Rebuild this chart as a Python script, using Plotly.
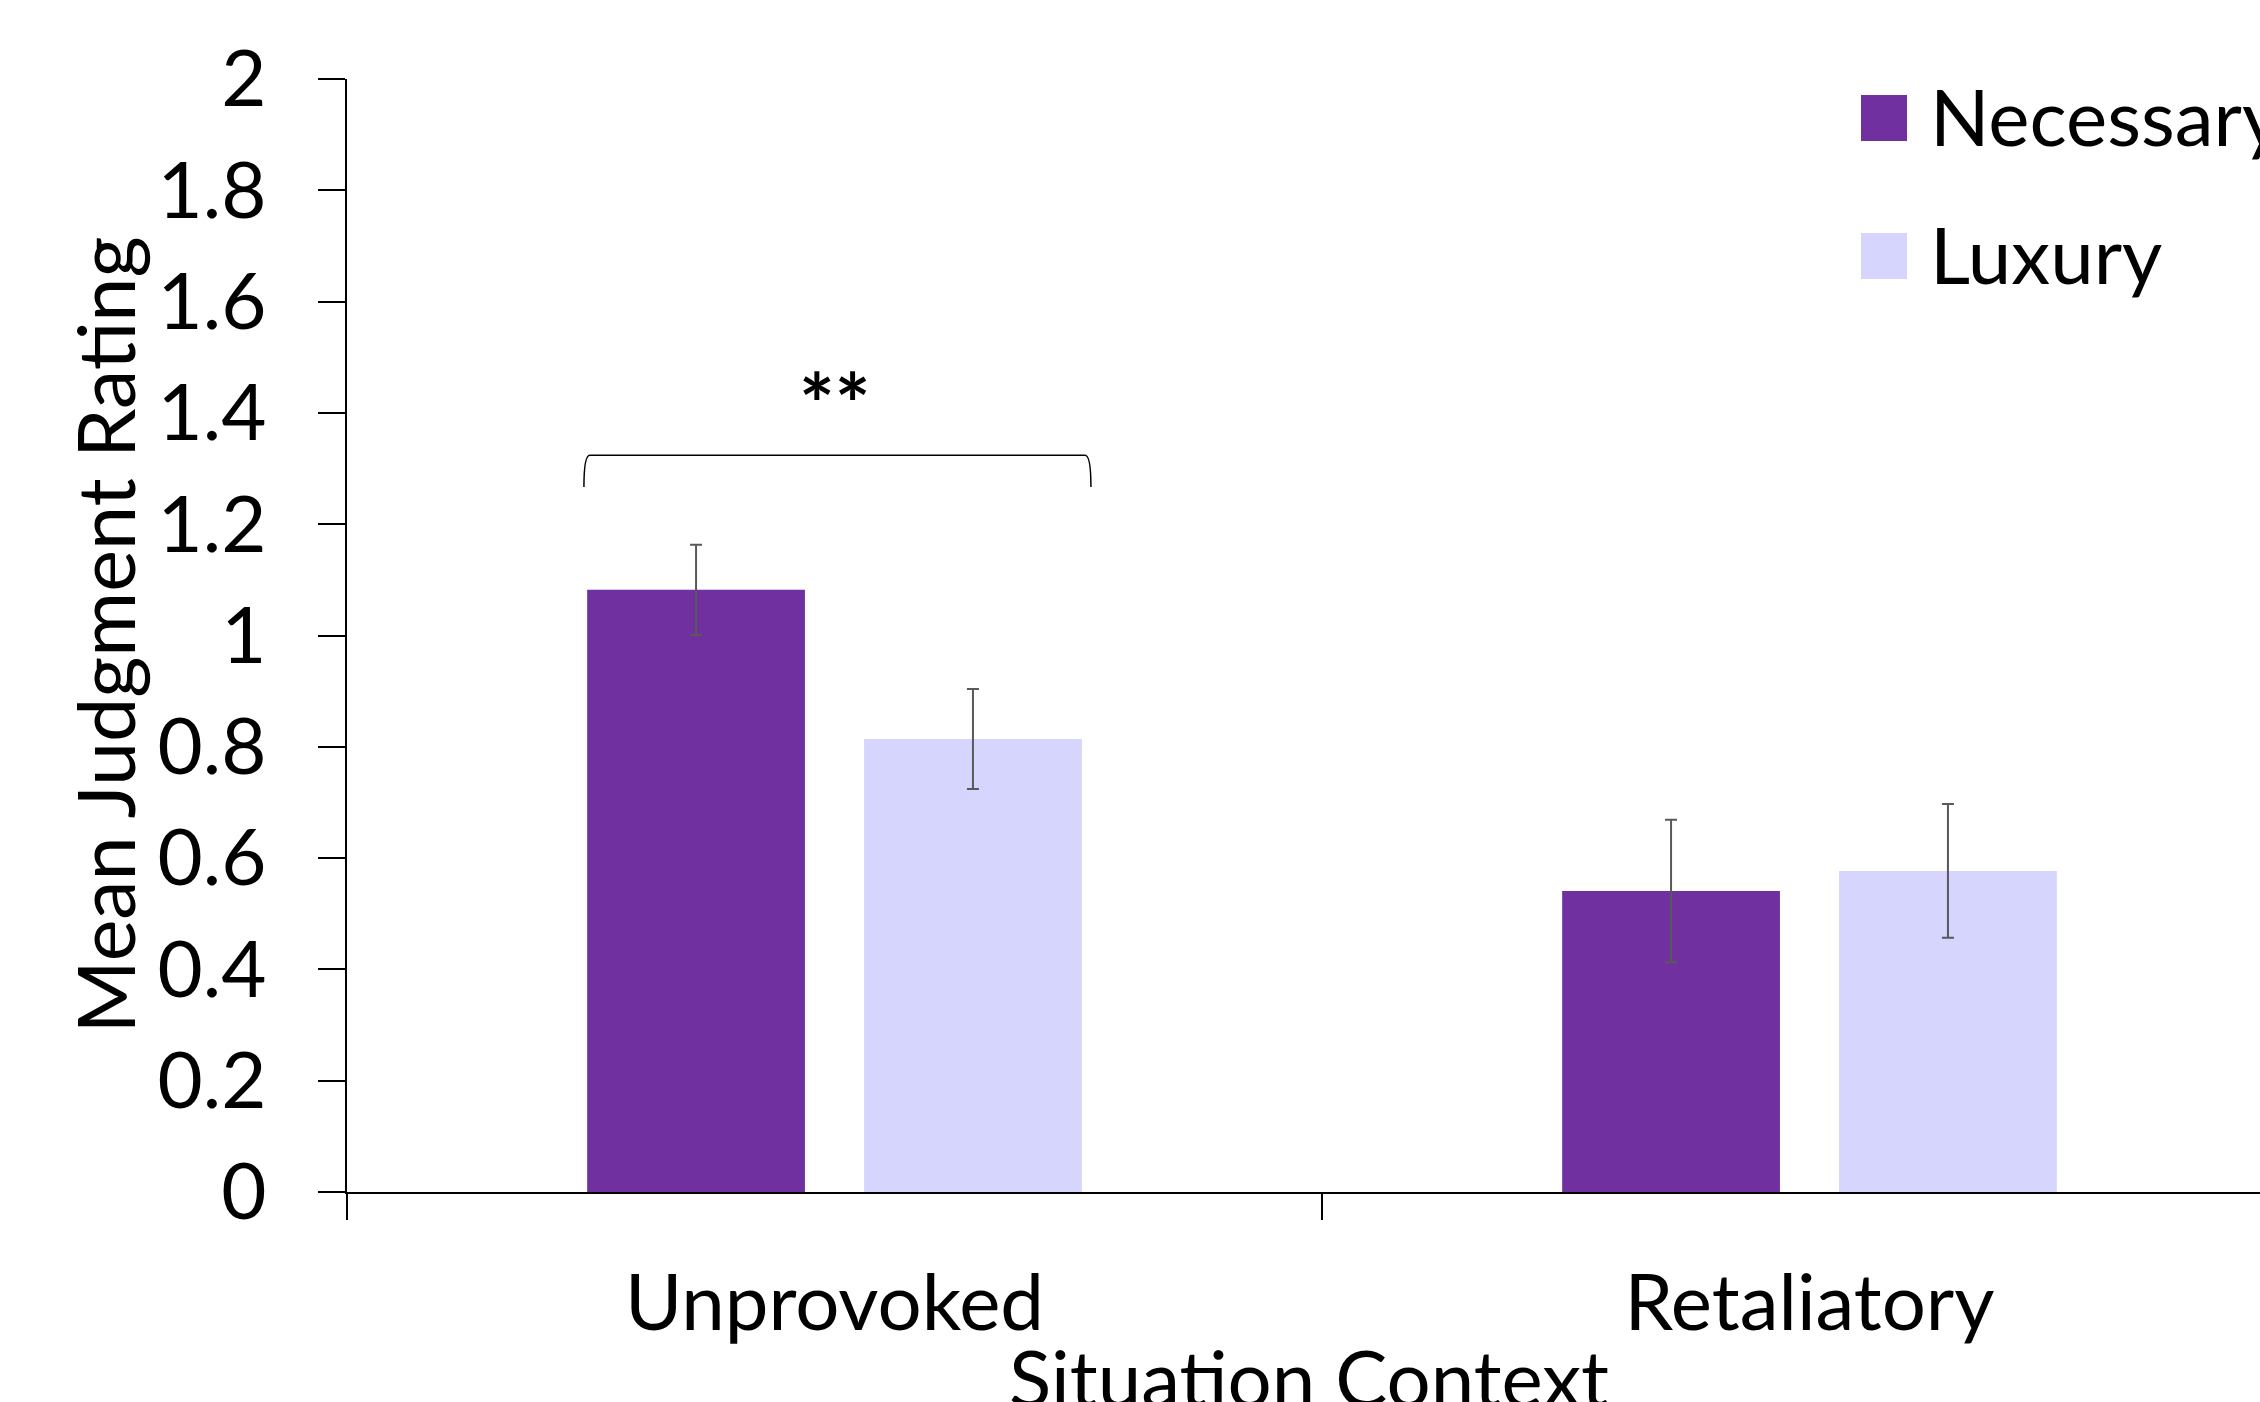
import plotly.graph_objects as go

# ---- data -------------------------------------------------------------
categories = ["Unprovoked", "Retaliatory"]
series_names = ["Necessary", "Luxury"]
necessary_means = [1.082, 0.541]
necessary_err = [0.081, 0.128]
luxury_means = [0.814, 0.577]
luxury_err = [0.090, 0.120]
y_tick_values = [0, 0.2, 0.4, 0.6, 0.8, 1.0, 1.2, 1.4, 1.6, 1.8, 2.0]
y_tick_labels = ["0", "0.2", "0.4", "0.6", "0.8", "1", "1.2", "1.4", "1.6", "1.8", "2"]
significance_label = "**"

# ---- style ------------------------------------------------------------
W, H = 2260, 1402
M_L, M_R, M_T, M_B = 347, 0, 79, 210
PLOT_W = W - M_L - M_R
PLOT_H = H - M_T - M_B
FONT = "Lato"
TICK_SIZE = 78
COLOR_NEC = "#7030A0"
COLOR_LUX = "#D6D5FD"
ERR_COLOR = "#595959"
series_colors = [COLOR_NEC, COLOR_LUX]


def px_x(px):
    """pixel column -> paper x"""
    return (px - M_L) / PLOT_W


def px_y(py):
    """pixel row -> paper y"""
    return (H - M_B - py) / PLOT_H


fig = go.Figure()
for name, means, errs, color in zip(series_names,
                                    [necessary_means, luxury_means],
                                    [necessary_err, luxury_err],
                                    series_colors):
    fig.add_trace(go.Bar(
        x=categories, y=means, name=name,
        marker=dict(color=color, line=dict(width=0)),
        error_y=dict(type="data", array=errs, visible=True,
                     color=ERR_COLOR, thickness=2, width=6),
        showlegend=False,
    ))

# significance bracket over the first group
bx0, bx1, by_top, by_end, r = -0.257, 0.263, 1.324, 1.267, 0.006
fig.add_shape(
    type="path", xref="x", yref="y",
    path=(f"M {bx0},{by_end} Q {bx0},{by_top} {bx0 + r},{by_top} "
          f"L {bx1 - r},{by_top} Q {bx1},{by_top} {bx1},{by_end}"),
    line=dict(color="black", width=1.5),
)
fig.add_annotation(x=0, y=1.418, xref="x", yref="y",
                   text=f"<b>{significance_label}</b>",
                   showarrow=False, font=dict(family=FONT, size=84, color="black"),
                   yanchor="middle")

# legend drawn as squares + labels
sq = 46
legend_rows = [118, 256]
for name, color, cy in zip(series_names, series_colors, legend_rows):
    fig.add_shape(type="rect", xref="paper", yref="paper",
                  x0=px_x(1861), x1=px_x(1861 + sq),
                  y0=px_y(cy + sq / 2), y1=px_y(cy - sq / 2),
                  fillcolor=color, line=dict(width=0))
    fig.add_annotation(x=px_x(1928), y=px_y(cy - 2), xref="paper", yref="paper",
                       text=name, showarrow=False, xanchor="left", yanchor="middle",
                       font=dict(family=FONT, size=TICK_SIZE, color="black"))

# axis titles
fig.add_annotation(x=px_x(104), y=0.5, xref="paper", yref="paper",
                   text="Mean Judgment Rating", textangle=-90, showarrow=False,
                   xanchor="center", yanchor="middle",
                   font=dict(family=FONT, size=79, color="black"))
fig.add_annotation(x=px_x(1309), y=px_y(1328), xref="paper", yref="paper",
                   text="Situation Context", showarrow=False,
                   xanchor="center", yanchor="top",
                   font=dict(family=FONT, size=TICK_SIZE, color="black"))

fig.update_layout(
    width=W, height=H, autosize=False,
    margin=dict(l=M_L, r=M_R, t=M_T, b=M_B, pad=0),
    plot_bgcolor="white", paper_bgcolor="white",
    barmode="group", bargap=0.432, bargroupgap=0.2135,
    font=dict(family=FONT, size=TICK_SIZE, color="black"),
)
fig.update_xaxes(
    type="category", range=[-0.5, 0.5 + (W - 1322) / 975],
    showline=True, linecolor="black", linewidth=2,
    ticks="outside", tickson="boundaries", ticklen=26, tickwidth=2,
    tickcolor="black", showgrid=False, zeroline=False,
    ticklabelstandoff=42,
)
fig.update_yaxes(
    range=[0, 2], tickvals=y_tick_values, ticktext=y_tick_labels,
    showline=True, linecolor="black", linewidth=2,
    ticks="outside", ticklen=27, tickwidth=2, tickcolor="black",
    showgrid=False, zeroline=False, ticklabelstandoff=36,
)

fig.write_html("out.html")
